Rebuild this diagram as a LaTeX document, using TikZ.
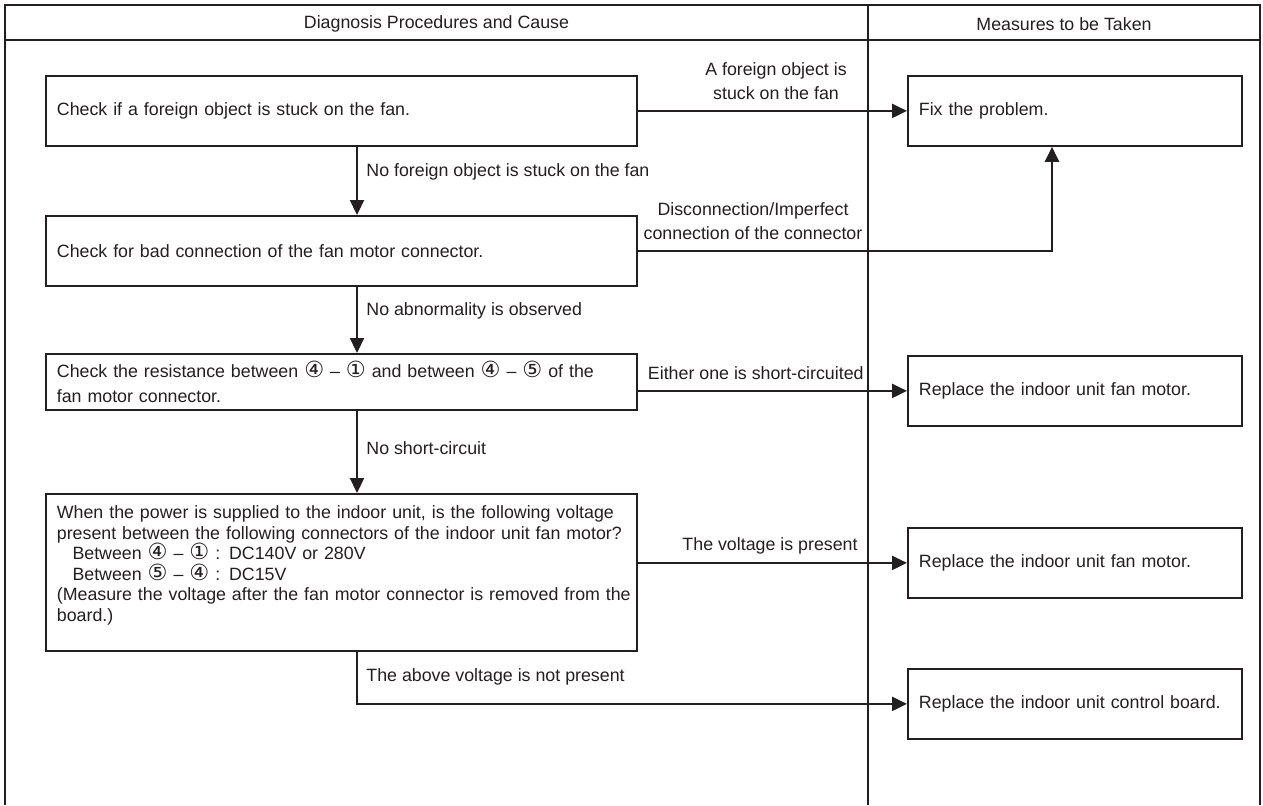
\documentclass[tikz,border=0pt]{standalone}
\usepackage{fontspec}
\setmainfont{Liberation Sans}
\newfontfamily\circfont[Scale=1.25]{DejaVu Sans}
\usetikzlibrary{arrows.meta,positioning,calc}
\definecolor{ink}{RGB}{35,31,32}
\newcommand{\cnum}[1]{{\circfont #1}}
\newcommand{\nodefont}{\fontsize{8.9pt}{10.3pt}\selectfont\lineskiplimit=-5pt\relax}

\begin{document}
\begin{tikzpicture}[x=0.5pt,y=-0.5pt,
  every node/.style={font=\nodefont, text=ink},
  stepbox/.style={draw=ink, line width=0.9pt, inner xsep=5.5pt, align=left, text width=284.5pt, minimum height=35pt, anchor=north west},
  fixbox/.style={stepbox, text width=156pt},
  flow/.style={draw=ink, line width=1.1pt, -{Triangle[length=7.5pt,width=7pt]}},
  lbl/.style={inner sep=0pt, align=center}]
  \useasboundingbox (0,0) rectangle (1263,805);
  % table frame
  \draw[ink, line width=0.8pt] (5,805) |- (1260,5) -- (1260,805);
  \draw[ink, line width=0.8pt] (5,40) -- (1260,40) (868,5) -- (868,805);
  \node (hdiag) at (436.5,24) {Diagnosis Procedures and Cause};
  \node (hmeas) at (1064,24) {Measures to be Taken};
  % checks
  \node[stepbox] (chk1) at (45,75) {Check if a foreign object is stuck on the fan.};
  \node[stepbox] (chk2) at (45,215) {Check for bad connection of the fan motor connector.};
  \node[stepbox, minimum height=28pt] (chk3) at (45,353) {Check the resistance between \cnum{④} – \cnum{①} and between \cnum{④} – \cnum{⑤} of the\\[2pt]fan motor connector.};
  \node[stepbox, minimum height=78.5pt] (chk4) at (45,493) {When the power is supplied to the indoor unit, is the following voltage\\
    present between the following connectors of the indoor unit fan motor?\\
    \hspace*{7.8pt}Between \cnum{④} – \cnum{①} : DC140V or 280V\\
    \hspace*{7.8pt}Between \cnum{⑤} – \cnum{④} : DC15V\\
    \mbox{(Measure the voltage after the fan motor connector is removed from the}\\
    board.)\par\vspace*{7pt}};
  % measures
  \node[fixbox] (fix) at (907,75) {Fix the problem.};
  \node[fixbox] (rep1) at (907,355) {Replace the indoor unit fan motor.};
  \node[fixbox] (rep2) at (907,527) {Replace the indoor unit fan motor.};
  \node[fixbox] (rep3) at (907,668) {Replace the indoor unit control board.};
  \coordinate (spine) at (357,0);
  \coordinate (riser) at (1052,0);
  % connectors
  \draw[flow] (chk1) -- (fix);
  \draw[flow] (chk1.south -| spine) -- (chk2.north -| spine);
  \draw[flow] (chk2.east) -| (fix.south -| riser);
  \draw[flow] (chk2.south -| spine) -- (chk3.north -| spine);
  \draw[flow] (rep1.west -| chk3.east) -- (rep1.west);
  \draw[flow] (chk3.south -| spine) -- (chk4.north -| spine);
  \draw[flow] (rep2.west -| chk4.east) -- (rep2.west);
  \draw[flow] (chk4.south -| spine) |- (rep3.west);
  % labels
  \node[lbl] (q1) at (776,81) {A foreign object is\\[1.7pt]stuck on the fan};
  \node[lbl, anchor=west] (n1) at (366,172) {No foreign object is stuck on the fan};
  \node[lbl] (q2) at (753,221.5) {Disconnection/Imperfect\\[1.7pt]connection of the connector};
  \node[lbl, anchor=west] (n2) at (366,311) {No abnormality is observed};
  \node[lbl, anchor=east] (q3) at (864,373) {Either one is short-circuited};
  \node[lbl, anchor=west] (n3) at (366,448) {No short-circuit};
  \node[lbl, anchor=east] (q4) at (858,546) {The voltage is present};
  \node[lbl, anchor=west] (n4) at (366,677) {The above voltage is not present};
\end{tikzpicture}
\end{document}
